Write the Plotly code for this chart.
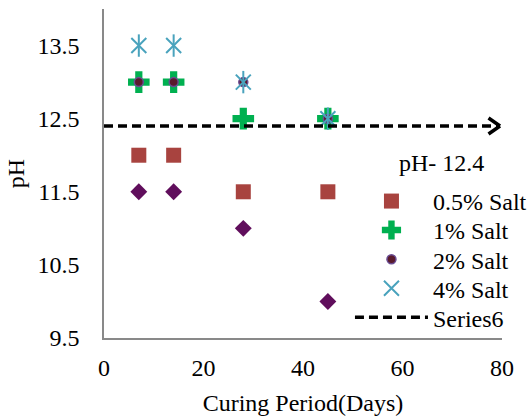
import plotly.graph_objects as go

# ---- data ----
days = [7, 14, 28, 45]
series1 = [11.5, 11.5, 11.0, 10.0]          # diamonds (no legend entry)
salt_05 = [12.0, 12.0, 11.5, 11.5]
salt_1 = [13.0, 13.0, 12.5, 12.5]
salt_2 = [13.0, 13.0, 13.0, 12.5]
salt_4 = [13.5, 13.5, 13.0, 12.5]
ref_x = [0, 79.6]
ref_y = [12.4, 12.4]
x_ticks = [0, 20, 40, 60, 80]
y_ticks = [9.5, 10.5, 11.5, 12.5, 13.5]

FONT = "Liberation Serif, Times New Roman, serif"
FS = 24

fig = go.Figure()
fig.add_trace(go.Scatter(x=days, y=series1, mode="markers", name="Series1", showlegend=False,
                         marker=dict(symbol="diamond", size=13, color="#600E5C")))
fig.add_trace(go.Scatter(x=days, y=salt_05, mode="markers", name="0.5% Salt", legend="legend",
                         marker=dict(symbol="square", size=15, color="#A8433F")))
fig.add_trace(go.Scatter(x=days, y=salt_1, mode="markers", name="1% Salt", legend="legend2",
                         marker=dict(symbol="cross", size=18, color="#00B050")))
fig.add_trace(go.Scatter(x=days, y=salt_2, mode="markers", name="2% Salt", legend="legend3",
                         marker=dict(symbol="circle", size=9, color="#5A1A2C",
                                     line=dict(color="#6A4C93", width=1.5))))
fig.add_trace(go.Scatter(x=days, y=salt_4, mode="markers", name="4% Salt", legend="legend4",
                         legendgroup="s4",
                         marker=dict(symbol="x-thin-open", size=15,
                                     line=dict(color="#4AA3BD", width=2), color="#4AA3BD")))
fig.add_trace(go.Scatter(x=days, y=salt_4, mode="markers", name="4% Salt", legendgroup="s4",
                         showlegend=False,
                         marker=dict(symbol="line-ns-open", size=16,
                                     line=dict(color="#4AA3BD", width=2), color="#4AA3BD")))
fig.add_trace(go.Scatter(x=ref_x, y=ref_y, mode="lines", name="Series6", legend="legend5",
                         line=dict(color="black", width=3.5, dash="9px,5px")))

# chevron arrow head at the end of the reference line
for dy in (-9, 9):
    fig.add_annotation(x=ref_x[-1], y=ref_y[-1], xref="x", yref="y", text="",
                       showarrow=True, arrowhead=0, arrowwidth=3.5, arrowcolor="black",
                       ax=-13, ay=dy, standoff=0)

fig.add_annotation(x=0.847, y=0.532, xref="paper", yref="paper", text="pH- 12.4",
                   xanchor="center", yanchor="middle",
                   showarrow=False, font=dict(family=FONT, size=FS, color="black"))

axis_common = dict(showgrid=False, zeroline=False, showline=True, linecolor="#898989",
                   linewidth=1.5, ticks="", automargin=False,
                   tickfont=dict(family=FONT, size=FS, color="black"))

fig.update_xaxes(range=[0, 80], tickvals=x_ticks, ticktext=[str(v) for v in x_ticks],
                 ticklabelstandoff=7,
                 title=dict(text="Curing Period(Days)", font=dict(family=FONT, size=FS, color="black"),
                            standoff=15),
                 **axis_common)
fig.update_yaxes(range=[9.5, 14.0], tickvals=y_ticks, ticktext=[str(v) for v in y_ticks],
                 ticklabelstandoff=18,
                 title=dict(text="pH", font=dict(family=FONT, size=FS, color="black"),
                            standoff=6),
                 **axis_common)

# one legend box per row so the row spacing can follow the original
row_y = [0.415, 0.327, 0.238, 0.150, 0.062]
legend_boxes = {}
for i, yy in enumerate(row_y):
    key = "legend" if i == 0 else f"legend{i + 1}"
    legend_boxes[key] = dict(x=0.618, y=yy, xanchor="left", yanchor="middle",
                             font=dict(family=FONT, size=FS, color="black"),
                             bgcolor="rgba(0,0,0,0)", itemwidth=73, tracegroupgap=0)

fig.update_layout(
    width=528, height=419, autosize=False,
    margin=dict(l=104, r=26, t=9, b=81, autoexpand=False),
    paper_bgcolor="white", plot_bgcolor="white",
    font=dict(family=FONT, size=FS, color="black"),
    **legend_boxes,
)

fig.write_html("out.html")
